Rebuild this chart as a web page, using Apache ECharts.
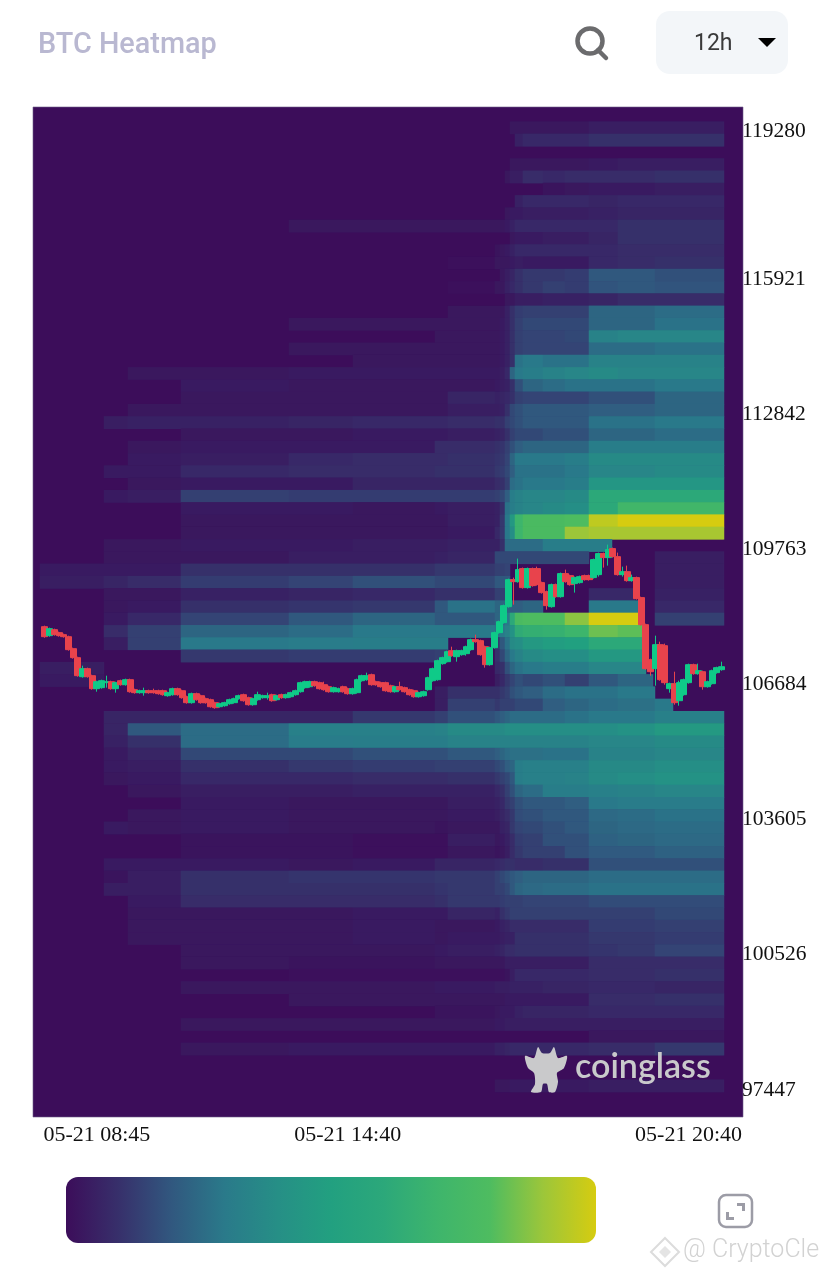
<!DOCTYPE html>
<html><head><meta charset="utf-8">
<script src="https://cdn.jsdelivr.net/npm/echarts@6/dist/echarts.min.js"></script>
<style>html,body{margin:0;padding:0;background:#fff}#c{width:828px;height:1276px}</style>
</head><body><div id="c"></div>
<script>
const xTickSlots=[13,66,138];
const xTickLabels=['05-21 08:45','05-21 14:40','05-21 20:40'];
const firstPrice=97447, priceStep=279.909;
const yTickRows=[2,13,24,35,46,57,68,80];
const colorStops=['#3c0d5a','#37306b','#31587f','#2a7a8a','#268f86','#22a080','#2ca87a','#3eb56c','#4ebc60','#9cc63a','#d6cc10'];
const heatColumnStarts=[7,71,95,148,256,320,402,415,462,467,472,477,482,490,510,532,556,585,622];
const heatEndSlot=691;
const heatRows=[
[0,0,0,0,0,0,0,0,0,0,0,3,3,3,3,3,5,5,5],
[0,0,0,0,0,0,0,0,0,0,0,0,6,8,8,8,10,10,10],
[0,0,0,0,0,0,0,0,0,0,0,0,0,0,0,0,0,0,0],
[0,0,0,0,0,0,0,0,0,0,0,3,3,3,3,3,4,5,5],
[0,0,0,0,0,0,0,0,0,0,3,5,5,9,8,9,9,9,10],
[0,0,0,0,0,0,0,0,0,0,0,0,0,0,2,3,4,4,5],
[0,0,0,0,0,0,0,0,0,0,0,0,6,8,8,8,7,8,8],
[0,0,0,0,0,0,0,0,0,0,3,4,4,5,5,5,6,7,7],
[0,0,0,0,3,3,3,3,3,3,4,6,8,8,8,8,8,10,10],
[0,0,0,0,0,0,0,0,0,0,0,3,4,4,5,5,7,10,10],
[0,0,0,0,0,0,0,0,2,3,4,6,8,8,8,8,8,9,9],
[0,0,0,0,0,0,0,1,3,3,3,4,5,4,4,4,8,9,10],
[0,0,0,0,0,0,0,0,0,3,5,7,10,12,12,13,20,20,18],
[0,0,0,0,0,0,0,1,3,3,6,8,10,12,14,13,19,20,19],
[0,0,0,0,0,0,0,0,0,0,3,3,5,5,6,6,7,9,9],
[0,0,0,0,0,0,0,3,3,3,6,10,13,14,14,14,24,24,26],
[0,0,0,0,3,3,3,3,3,4,6,10,14,16,16,16,24,24,28],
[0,0,0,0,0,0,3,3,3,4,6,10,14,15,15,16,34,36,36],
[0,0,0,0,3,3,3,3,3,4,6,10,14,15,15,15,26,26,28],
[0,0,0,0,0,3,3,3,3,4,6,10,28,30,28,28,34,34,34],
[0,0,3,3,4,4,4,4,4,5,8,24,30,32,34,36,38,36,36],
[0,0,0,4,3,3,3,3,4,5,6,10,18,24,26,28,28,28,30],
[0,0,0,3,3,3,3,7,6,7,8,10,14,15,15,15,18,18,24],
[0,0,3,3,3,3,3,5,5,6,10,16,18,20,20,20,22,22,24],
[0,5,6,6,7,8,8,9,10,10,14,16,18,20,20,20,28,28,30],
[0,0,0,3,3,4,4,5,6,7,10,14,16,16,18,18,24,24,26],
[0,0,3,4,4,4,9,9,10,11,14,18,22,24,24,24,32,32,32],
[0,0,4,5,8,9,9,10,11,12,15,24,30,30,30,32,38,38,38],
[0,4,4,8,9,9,10,10,12,13,16,22,28,28,28,30,36,36,38],
[0,0,3,4,4,7,7,7,9,10,14,26,28,30,30,32,44,44,44],
[0,4,5,14,13,13,13,13,14,16,22,32,34,36,36,38,60,60,60],
[0,0,0,4,4,3,4,5,6,10,28,32,34,36,38,40,60,72,72],
[0,0,0,3,3,3,3,5,6,12,30,45,70,78,78,80,96,100,100],
[0,0,0,3,3,3,3,4,8,12,30,40,70,78,78,90,92,92,92],
[0,3,3,4,4,5,5,6,6,10,26,26,26,26,32,32,32,0,0],
[0,3,3,3,5,5,6,7,16,16,16,16,16,16,16,16,0,0,5],
[4,4,4,10,10,10,12,12,14,14,15,0,0,0,0,0,0,0,5],
[5,7,9,13,15,18,16,16,20,20,20,0,0,0,0,0,0,0,5],
[0,3,3,6,7,8,10,10,14,14,14,0,0,0,0,0,8,8,6],
[0,3,4,10,11,12,20,28,24,24,24,22,22,24,0,0,30,30,8],
[0,4,8,15,20,24,20,20,24,26,30,60,78,80,80,88,100,100,14],
[0,9,14,24,26,30,30,30,28,30,34,42,62,65,66,70,84,82,0],
[0,5,14,30,31,32,32,0,12,20,28,38,40,45,48,50,60,60,0],
[0,0,0,12,13,13,14,0,10,16,24,30,34,38,40,40,45,45,0],
[5,0,0,0,0,0,0,0,8,10,18,24,28,30,32,32,36,36,0],
[4,0,0,0,0,0,0,0,5,8,12,15,18,16,18,14,20,24,0],
[0,0,0,0,0,0,5,10,10,12,14,18,20,22,26,28,28,30,0],
[0,0,0,0,0,0,5,14,12,14,14,14,16,16,22,24,26,27,30],
[0,7,7,7,7,12,14,18,20,22,24,26,26,26,26,28,30,30,33],
[0,7,20,26,33,33,34,38,38,38,40,40,40,40,40,40,40,42,46],
[0,6,10,26,31,32,32,34,34,34,34,34,34,34,34,34,36,36,38],
[0,4,7,16,16,18,18,20,22,24,26,27,27,27,28,28,34,34,36],
[0,4,5,10,12,13,14,14,16,18,22,24,32,33,33,33,37,37,40],
[0,3,4,8,8,9,9,10,12,14,16,20,32,33,33,34,38,40,42],
[0,0,3,5,5,6,6,6,8,10,14,18,24,26,32,32,33,34,36],
[0,0,0,4,3,3,3,5,6,8,12,14,18,20,20,22,30,31,31],
[0,0,3,4,3,3,3,4,5,7,9,12,17,18,20,20,25,26,28],
[0,4,3,4,3,3,2,3,3,6,7,12,15,16,18,20,24,25,26],
[0,0,0,2,2,1,1,5,3,4,6,9,13,14,18,18,23,24,25],
[0,0,0,2,2,1,1,3,2,3,5,9,12,14,14,18,21,21,23],
[0,4,4,4,3,4,7,7,8,9,10,10,9,9,10,10,18,18,18],
[0,2,5,10,11,11,12,12,14,16,18,20,22,24,24,24,26,26,26],
[0,5,5,10,10,10,11,12,14,14,16,20,24,25,26,26,28,28,28],
[0,0,4,9,9,9,10,12,12,13,14,14,14,15,15,15,17,17,17],
[0,0,3,3,3,4,4,7,6,10,12,14,14,14,14,14,14,14,16],
[0,0,3,3,3,4,3,3,4,6,7,9,9,9,9,9,13,13,14],
[0,0,3,3,3,4,3,4,4,5,6,6,10,10,10,10,12,12,13],
[0,0,0,3,3,3,4,5,6,7,9,9,10,10,10,10,11,12,15],
[0,0,0,3,2,2,3,3,3,3,5,5,5,5,5,5,9,9,9],
[0,0,0,0,1,1,1,1,1,1,2,5,8,8,8,8,9,9,10],
[0,0,0,3,3,3,4,4,5,5,5,6,6,6,7,7,8,8,7],
[0,0,0,0,3,3,3,3,3,3,4,4,4,4,4,4,9,9,10],
[0,0,0,0,0,0,2,2,3,4,4,4,6,7,7,7,8,8,8],
[0,0,0,3,3,3,3,3,4,4,5,5,5,5,5,5,5,5,5],
[0,0,0,0,0,0,0,0,0,0,0,0,0,0,0,0,3,3,3],
[0,0,0,3,4,4,4,4,6,6,7,8,8,8,8,8,9,9,12],
[0,0,0,0,0,0,0,0,0,0,0,0,0,0,0,0,0,0,0],
[0,0,0,0,0,0,0,0,0,0,0,0,0,0,0,0,0,0,0],
[0,0,0,0,0,0,0,0,3,3,3,4,4,4,4,4,5,5,5]
];
// [first row, last row, first slot, end slot] : levels already swept away by price
const sweptBlocks=[
[34,34,579,691],[35,35,560,622],[36,36,479,622],[37,37,477,622],[38,38,479,556],[38,38,602,622],
[39,39,512,556],[39,39,607,622],[40,40,607,622],[41,41,611,691],[42,42,420,462],[42,42,611,691],
[43,43,420,462],[43,43,610,691],[44,44,613,691],[45,45,620,691],[46,46,629,691],[47,47,640,691]
];
// open, close, low, high
const candles=[
[107912,107684,107660,107935],[107707,107867,107684,107890],[107844,107730,107707,107867],[107776,107707,107684,107798],
[107730,107684,107662,107753],[107684,107388,107365,107707],[107411,107206,107183,107434],[107206,106795,106772,107228],
[106772,106955,106750,107023],[106955,106772,106750,106978],[106795,106499,106476,106818],[106499,106658,106430,106681],
[106522,106681,106499,106704],[106636,106658,106522,106795],[106658,106499,106476,106681],[106499,106636,106408,106658],
[106681,106590,106567,106704],[106590,106704,106567,106727],[106704,106430,106408,106727],[106476,106408,106385,106499],
[106408,106453,106385,106476],[106408,106453,106339,106522],[106453,106408,106385,106476],[106453,106408,106385,106499],
[106453,106385,106362,106476],[106453,106362,106339,106476],[106339,106408,106316,106430],[106362,106499,106339,106522],
[106499,106362,106339,106522],[106453,106294,106271,106476],[106316,106180,106157,106339],[106180,106385,106157,106408],
[106385,106248,106225,106408],[106339,106180,106157,106362],[106271,106180,106157,106294],[106248,106088,106066,106271],
[106180,106066,106043,106202],[106088,106157,106066,106180],[106111,106180,106088,106202],[106157,106248,106134,106271],
[106180,106271,106157,106294],[106271,106339,106248,106362],[106362,106225,106202,106385],[106294,106134,106111,106316],
[106134,106271,106111,106294],[106248,106362,106225,106430],[106294,106339,106271,106362],[106294,106339,106248,106408],
[106362,106225,106202,106385],[106248,106339,106225,106362],[106362,106294,106271,106385],[106294,106362,106271,106385],
[106316,106408,106294,106430],[106362,106453,106339,106476],[106430,106636,106408,106658],[106522,106658,106499,106681],
[106544,106658,106522,106681],[106658,106567,106544,106681],[106636,106499,106476,106658],[106590,106476,106453,106658],
[106544,106430,106408,106567],[106430,106522,106408,106544],[106430,106499,106408,106522],[106544,106430,106408,106567],
[106499,106385,106362,106522],[106385,106499,106362,106522],[106408,106704,106385,106727],[106681,106795,106658,106818],
[106704,106795,106681,106864],[106818,106590,106567,106841],[106658,106590,106567,106681],[106636,106544,106522,106658],
[106636,106453,106430,106658],[106567,106430,106408,106590],[106430,106544,106408,106567],[106544,106476,106453,106658],
[106522,106430,106408,106544],[106476,106362,106339,106499],[106453,106316,106294,106476],[106316,106408,106294,106430],
[106339,106430,106316,106453],[106476,106750,106453,106772],[106681,106955,106658,106978],[106704,107137,106681,107160],
[107069,107206,107046,107228],[107114,107342,107092,107365],[107365,107251,107228,107456],[107228,107365,107114,107388],
[107274,107365,107251,107388],[107297,107456,107251,107479],[107388,107616,107365,107639],[107616,107570,107548,107730],
[107593,107274,107251,107616],[107456,107046,106978,107479],[107046,107434,107023,107456],[107434,107776,107411,107798],
[107776,108026,107753,108049],[108004,108391,107981,108414],[108368,108984,108345,109007],[108984,108938,108414,109030],
[108938,109212,108915,109463],[109235,108802,108779,109258],[108802,109235,108779,109258],[109235,108847,108824,109258],
[109235,108870,108847,109280],[108916,108688,108665,108938],[108710,108391,108300,108733],[108368,108870,108345,108893],
[108870,108596,108573,108893],[108596,109121,108573,109144],[109121,108938,108915,109212],[109075,108870,108847,109098],
[108893,109030,108688,109053],[108916,109052,108893,109075],[109075,108984,108961,109098],[109075,108984,108961,109098],
[109030,109440,109007,109463],[109098,109577,109053,109600],[109577,109486,109258,109600],[109486,109668,109303,109782],
[109691,109508,109486,109714],[109508,109098,109075,109600],[109098,109166,109053,109280],[109166,108961,108938,109303],
[108961,109030,108938,109098],[109030,108551,108528,109053],[108574,107958,107935,108596],[107958,106955,106932,107981],
[107160,106886,106795,107183],[106955,107502,106567,107707],[107502,106704,106681,107570],[107479,106636,106590,107525],
[106499,106613,106408,106636],[106613,106180,106134,106886],[106225,106636,106111,106681],[106362,106704,106339,106727],
[106636,107046,106613,107069],[107046,106841,106818,107069],[106841,106909,106818,107069],[106886,106544,106476,106909],
[106544,106658,106522,106681],[106613,106909,106590,106932],[106864,106978,106841,107000],[106932,107000,106909,107114]
];

const rowCount=82, slotCount=710, candleSlots=150, candleOffset=2;
const yCats=Array.from({length:rowCount},(_,i)=>String(Math.round(firstPrice+(i-2)*priceStep)));
const xCats=Array.from({length:candleSlots},(_,i)=>{const k=xTickSlots.indexOf(i);return k>=0?xTickLabels[k]:String(i);});
const heatCats=Array.from({length:slotCount},(_,i)=>String(i));
const heatData=[];
heatRows.forEach((row,r)=>row.forEach((v,c)=>{
  if(!v)return;
  const from=heatColumnStarts[c], to=c+1<heatColumnStarts.length?heatColumnStarts[c+1]:heatEndSlot;
  for(let s=from;s<to;s++){
    if(sweptBlocks.some(b=>r>=b[0]&&r<=b[1]&&s>=b[2]&&s<b[3]))continue;
    heatData.push([s,80-r,v]);
  }
}));
const candleData=Array.from({length:candleSlots},(_,i)=>{
  const d=candles[i-candleOffset]; return d?d:'-';
});
const priceMin=firstPrice-2.5*priceStep, priceMax=priceMin+rowCount*priceStep;
const serif='"Liberation Serif","Times New Roman",serif';
const stopsObj=colorStops.map((c,i)=>({offset:i/(colorStops.length-1),color:c}));

const chart=echarts.init(document.getElementById('c'),null,{renderer:'canvas'});
chart.setOption({
  animation:false,
  backgroundColor:'#fff',
  title:{text:'BTC Heatmap',left:33,top:26,textStyle:{fontFamily:'Roboto',fontWeight:500,fontSize:28.8,color:'#b9b8d1'}},
  grid:{left:33,top:109.4,width:710,height:1007.2,containLabel:false},
  xAxis:[
    {type:'category',data:xCats,gridIndex:0,axisLine:{show:false},axisTick:{show:false},splitLine:{show:false},
     axisLabel:{interval:(i)=>xTickSlots.includes(i),margin:8,fontFamily:serif,fontSize:22,color:'#111',hideOverlap:false,
       verticalAlign:'top'}},
    {type:'category',data:heatCats,gridIndex:0,show:false}
  ],
  yAxis:[
    {type:'category',data:yCats,gridIndex:0,position:'right',axisLine:{show:false},axisTick:{show:false},splitLine:{show:false},
     axisLabel:{interval:(i)=>yTickRows.includes(i),margin:-1,verticalAlign:'top',lineHeight:8,fontFamily:serif,fontSize:21.5,color:'#111',hideOverlap:false}},
    {type:'value',gridIndex:0,show:false,min:priceMin,max:priceMax,scale:true,splitLine:{show:false}}
  ],
  visualMap:{show:false,type:'continuous',min:0,max:100,seriesIndex:0,inRange:{color:colorStops}},
  series:[
    {type:'heatmap',xAxisIndex:1,yAxisIndex:0,data:heatData,silent:true,progressive:0,z:2,itemStyle:{opacity:1}},
    {type:'candlestick',xAxisIndex:0,yAxisIndex:1,data:candleData,silent:true,barWidth:6.5,barMaxWidth:8,z:3,progressive:0,
     itemStyle:{color:'#0fca88',color0:'#e8434c',borderColor:'#0fca88',borderColor0:'#e8434c',borderWidth:1}}
  ],
  graphic:[
    {type:'rect',z:0,shape:{x:33,y:107,width:710,height:1010},style:{fill:'#3c0d5a',stroke:'#6d5a88',lineWidth:0.6},silent:true},
    {type:'circle',z:5,shape:{cx:590,cy:41,r:12.5},style:{fill:'none',stroke:'#6b6b6d',lineWidth:4.5}},
    {type:'line',z:5,shape:{x1:598,y1:50,x2:606,y2:58},style:{stroke:'#6b6b6d',lineWidth:4.5,lineCap:'round'}},
    {type:'rect',z:5,shape:{x:656,y:11,width:132,height:63,r:14},style:{fill:'#f3f6f9'}},
    {type:'text',z:6,x:694,y:33,style:{text:'12h',font:'400 23px Roboto',fill:'#3a3a3a'}},
    {type:'polygon',z:6,shape:{points:[[758,38],[776,38],[767,47]]},style:{fill:'#000'}},
    // coinglass mark
    {type:'polygon',z:7,shape:{smooth:0.25,points:[[525,1056],[534,1058],[538,1047],[542,1053],[550,1053],[554,1047],[558,1058],[567,1056],[564,1068],[557,1073],[558,1082],[555,1092],[549,1092],[547,1084],[543,1084],[541,1092],[531,1092],[535,1084],[534,1073],[528,1068]]},style:{fill:'#c9c9cb'}},
    {type:'text',z:7,x:575,y:1050,style:{text:'coinglass',font:'600 34px Lato',fill:'#c9c9cb'}},
    // colour bar
    {type:'rect',z:5,shape:{x:66,y:1177,width:530,height:66,r:12},style:{fill:{type:'linear',x:0,y:0,x2:1,y2:0,colorStops:stopsObj}}},
    // expand icon
    {type:'rect',z:5,shape:{x:719,y:1195,width:33,height:32,r:7},style:{fill:'none',stroke:'#9c9ca6',lineWidth:2.5}},
    {type:'polygon',z:5,shape:{points:[[737,1203],[745,1203],[745,1211],[742,1211],[742,1206],[737,1206]]},style:{fill:'#9c9ca6'}},
    {type:'polygon',z:5,shape:{points:[[726,1212],[729,1212],[729,1217],[734,1217],[734,1220],[726,1220]]},style:{fill:'#9c9ca6'}},
    // watermark
    {type:'polygon',z:5,shape:{points:[[665,1238],[679,1252],[665,1266],[651,1252]]},style:{fill:'none',stroke:'#dcdcdc',lineWidth:2}},
    {type:'polygon',z:5,shape:{points:[[665,1246],[671,1252],[665,1258],[659,1252]]},style:{fill:'#e4e4e4'}},
    {type:'text',z:5,x:683,y:1238,style:{text:'@ CryptoCle',font:'300 25px Roboto',fill:'#d2d2d2'}}
  ]
});
</script></body></html>
